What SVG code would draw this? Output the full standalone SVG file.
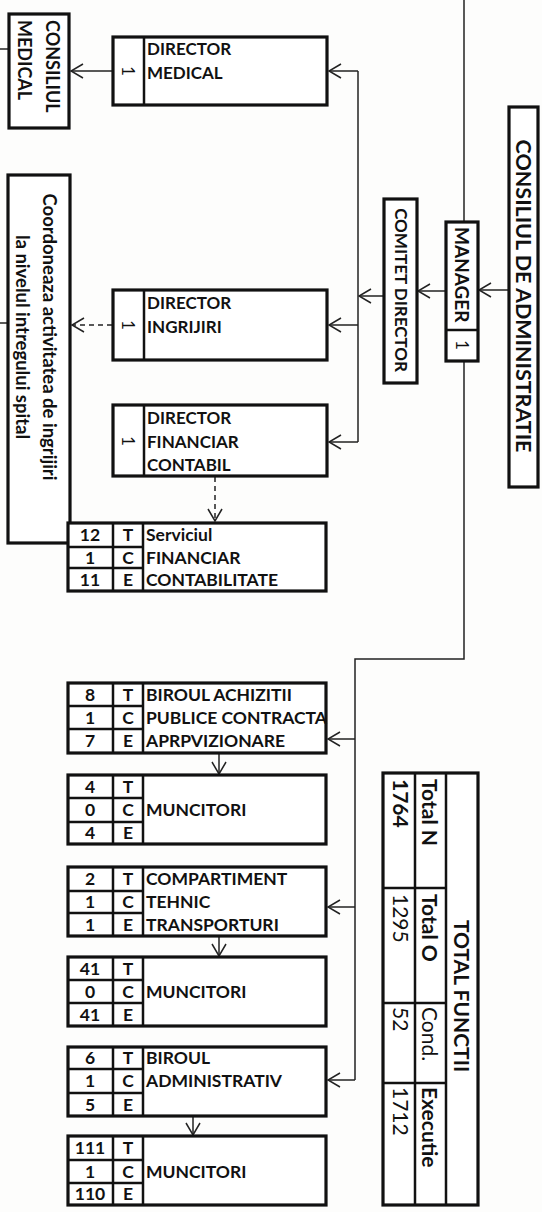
<svg xmlns="http://www.w3.org/2000/svg" width="542" height="1212" viewBox="0 0 542 1212">
<style>
.bg{fill:#fdfdfc}
.box{fill:#fff;stroke:#111;stroke-width:3.2}
.dv{stroke:#111;stroke-width:2.5;fill:none}
.con{fill:none;stroke:#222;stroke-width:1.5}
.dash{stroke-dasharray:5,4}
.t{font-family:Lato,"Liberation Sans",sans-serif;font-weight:bold;font-size:17.5px;fill:#111}
.d{font-size:17px}
.tt{font-size:21px}
.r{font-weight:normal}
.c{text-anchor:middle}
.v{dominant-baseline:central}
</style>
<defs>
<marker id="ah" viewBox="0 0 14 16" refX="13" refY="8" markerWidth="14" markerHeight="16" markerUnits="userSpaceOnUse" orient="auto">
<path d="M1,1 L13,8 L1,15" fill="none" stroke="#222" stroke-width="1.5"/>
</marker>
</defs>
<rect class="bg" x="0" y="0" width="542" height="1212"/>

<g id="connectors">
<line class="con" x1="464" y1="0" x2="464" y2="222"/>
<line class="con" x1="509" y1="290" x2="479" y2="290" marker-end="url(#ah)"/>
<line class="con" x1="446" y1="291" x2="418" y2="291" marker-end="url(#ah)"/>
<line class="con" x1="384" y1="296" x2="359" y2="296" marker-end="url(#ah)"/>
<line class="con" x1="358" y1="71" x2="358" y2="442"/>
<line class="con" x1="358" y1="71" x2="329" y2="71" marker-end="url(#ah)"/>
<line class="con" x1="358" y1="325" x2="329" y2="325" marker-end="url(#ah)"/>
<line class="con" x1="358" y1="442" x2="329" y2="442" marker-end="url(#ah)"/>
<line class="con" x1="113" y1="71" x2="71" y2="71" marker-end="url(#ah)"/>
<line class="con" x1="0" y1="49" x2="9" y2="49"/>
<line class="con dash" x1="112" y1="325" x2="72" y2="325" marker-end="url(#ah)"/>
<line class="con" x1="0" y1="323" x2="8" y2="323"/>
<line class="con dash" x1="215" y1="477" x2="215" y2="521" marker-end="url(#ah)"/>
<polyline class="con" points="464,361 464,659 355,659 355,1080" />
<line class="con" x1="355" y1="1080" x2="328" y2="1080" marker-end="url(#ah)"/>
<line class="con" x1="355" y1="739" x2="328" y2="739" marker-end="url(#ah)"/>
<line class="con" x1="355" y1="907" x2="328" y2="907" marker-end="url(#ah)"/>
<line class="con" x1="219" y1="754" x2="219" y2="774" marker-end="url(#ah)"/>
<line class="con" x1="219" y1="937" x2="219" y2="956" marker-end="url(#ah)"/>
<line class="con" x1="193" y1="1117" x2="193" y2="1135" marker-end="url(#ah)"/>
</g>

<g id="consiliul-administratie">
<rect class="box" x="509" y="107" width="29" height="380"/>
<text class="t v c" style="font-size:21.5px" transform="translate(524,296) rotate(90)">CONSILIUL DE ADMINISTRATIE</text>
</g>

<g id="manager">
<rect class="box" x="446" y="222" width="32" height="139"/>
<line class="dv" x1="446" y1="330" x2="478" y2="330"/>
<text class="t v" style="font-size:19px" transform="translate(462,227) rotate(90)">MANAGER</text>
<text class="t v c r" style="font-size:17px" transform="translate(462,345) rotate(90)">1</text>
</g>

<g id="comitet-director">
<rect class="box" x="384" y="199" width="33" height="184"/>
<text class="t v c" style="font-size:17px" transform="translate(401,290) rotate(90)">COMITET DIRECTOR</text>
</g>

<g id="consiliul-medical">
<rect class="box" x="9" y="14" width="60" height="114"/>
<text class="t v" style="font-size:18px" transform="translate(53,20) rotate(90)">CONSILIUL</text>
<text class="t v" style="font-size:18px" transform="translate(25,20) rotate(90)">MEDICAL</text>
</g>

<g id="director-medical">
<rect class="box" x="113" y="37" width="214" height="68"/>
<line class="dv" x1="144" y1="37" x2="144" y2="105"/>
<text class="t d v c r" transform="translate(128,71) rotate(90)">1</text>
<text class="t d" x="147" y="55">DIRECTOR</text>
<text class="t d" x="147" y="79">MEDICAL</text>
</g>

<g id="coordonare">
<rect class="box" x="8" y="175" width="62" height="368"/>
<text class="t v c" style="font-size:18.5px" transform="translate(50,337) rotate(90)">Coordoneaza activitatea de ingrijiri</text>
<text class="t v c" style="font-size:18.5px" transform="translate(23,337) rotate(90)">la nivelul intregului spital</text>
</g>

<g id="director-ingrijiri">
<rect class="box" x="113" y="290" width="214" height="70"/>
<line class="dv" x1="144" y1="290" x2="144" y2="360"/>
<text class="t d v c r" transform="translate(128,325) rotate(90)">1</text>
<text class="t d" x="147" y="309">DIRECTOR</text>
<text class="t d" x="147" y="333">INGRIJIRI</text>
</g>

<g id="director-financiar">
<rect class="box" x="113" y="405" width="214" height="71"/>
<line class="dv" x1="144" y1="405" x2="144" y2="476"/>
<text class="t d v c r" transform="translate(128,441) rotate(90)">1</text>
<text class="t d" x="147" y="424">DIRECTOR</text>
<text class="t d" x="147" y="448">FINANCIAR</text>
<text class="t d" x="147" y="471">CONTABIL</text>
</g>

<g id="serviciul-financiar">
<rect class="box" x="68" y="523" width="258" height="68"/>
<path class="dv" d="M113,523V591M143,523V591M68,547H143M68,568H143"/>
<text class="t c" x="90" y="541">12</text><text class="t c" x="128" y="541">T</text>
<text class="t c" x="90" y="564">1</text><text class="t c" x="128" y="564">C</text>
<text class="t c" x="90" y="586">11</text><text class="t c" x="128" y="586">E</text>
<text class="t" x="146" y="541">Serviciul</text>
<text class="t" x="146" y="564">FINANCIAR</text>
<text class="t" x="146" y="586">CONTABILITATE</text>
</g>

<g id="biroul-achizitii">
<rect class="box" x="68" y="683" width="258" height="70"/>
<path class="dv" d="M113,683V753M143,683V753M68,706H143M68,729H143"/>
<text class="t c" x="90" y="701">8</text><text class="t c" x="128" y="701">T</text>
<text class="t c" x="90" y="724">1</text><text class="t c" x="128" y="724">C</text>
<text class="t c" x="90" y="747">7</text><text class="t c" x="128" y="747">E</text>
<text class="t" x="146" y="701">BIROUL ACHIZITII</text>
<text class="t" x="146" y="724">PUBLICE CONTRACTA</text>
<text class="t" x="146" y="747">APRPVIZIONARE</text>
</g>

<g id="muncitori-1">
<rect class="box" x="68" y="775" width="258" height="69"/>
<path class="dv" d="M113,775V844M143,775V844M68,798H143M68,822H143"/>
<text class="t c" x="90" y="793">4</text><text class="t c" x="128" y="793">T</text>
<text class="t c" x="90" y="816">0</text><text class="t c" x="128" y="816">C</text>
<text class="t c" x="90" y="839">4</text><text class="t c" x="128" y="839">E</text>
<text class="t" x="146" y="816">MUNCITORI</text>
</g>

<g id="compartiment-tehnic">
<rect class="box" x="68" y="867" width="258" height="69"/>
<path class="dv" d="M113,867V936M143,867V936M68,891H143M68,913H143"/>
<text class="t c" x="90" y="885">2</text><text class="t c" x="128" y="885">T</text>
<text class="t c" x="90" y="908">1</text><text class="t c" x="128" y="908">C</text>
<text class="t c" x="90" y="931">1</text><text class="t c" x="128" y="931">E</text>
<text class="t" x="146" y="885">COMPARTIMENT</text>
<text class="t" x="146" y="908">TEHNIC</text>
<text class="t" x="146" y="931">TRANSPORTURI</text>
</g>

<g id="muncitori-2">
<rect class="box" x="68" y="957" width="258" height="69"/>
<path class="dv" d="M113,957V1026M143,957V1026M68,980H143M68,1003H143"/>
<text class="t c" x="90" y="975">41</text><text class="t c" x="128" y="975">T</text>
<text class="t c" x="90" y="998">0</text><text class="t c" x="128" y="998">C</text>
<text class="t c" x="90" y="1021">41</text><text class="t c" x="128" y="1021">E</text>
<text class="t" x="146" y="998">MUNCITORI</text>
</g>

<g id="biroul-administrativ">
<rect class="box" x="68" y="1047" width="258" height="69"/>
<path class="dv" d="M113,1047V1116M143,1047V1116M68,1069H143M68,1093H143"/>
<text class="t c" x="90" y="1064">6</text><text class="t c" x="128" y="1064">T</text>
<text class="t c" x="90" y="1087">1</text><text class="t c" x="128" y="1087">C</text>
<text class="t c" x="90" y="1111">5</text><text class="t c" x="128" y="1111">E</text>
<text class="t" x="146" y="1064">BIROUL</text>
<text class="t" x="146" y="1087">ADMINISTRATIV</text>
</g>

<g id="muncitori-3">
<rect class="box" x="68" y="1136" width="258" height="69"/>
<path class="dv" d="M113,1136V1205M143,1136V1205M68,1160H143M68,1183H143"/>
<text class="t c" x="90" y="1154">111</text><text class="t c" x="128" y="1154">T</text>
<text class="t c" x="90" y="1178">1</text><text class="t c" x="128" y="1178">C</text>
<text class="t c" x="90" y="1200">110</text><text class="t c" x="128" y="1200">E</text>
<text class="t" x="146" y="1178">MUNCITORI</text>
</g>

<g id="total-functii">
<rect class="box" x="383" y="773" width="95" height="432"/>
<path class="dv" d="M415,773V1205M446,773V1205M383,888H446M383,1003H446M383,1083H446"/>
<text class="t tt v c" transform="translate(462,996) rotate(90)">TOTAL FUNCTII</text>
<text class="t tt v" transform="translate(430,779) rotate(90)">Total N</text>
<text class="t tt v" transform="translate(401,779) rotate(90)">1764</text>
<text class="t tt v" transform="translate(430,894) rotate(90)">Total O</text>
<text class="t tt v r" transform="translate(401,894) rotate(90)">1295</text>
<text class="t tt v r" transform="translate(430,1007) rotate(90)">Cond.</text>
<text class="t tt v r" transform="translate(401,1007) rotate(90)">52</text>
<text class="t tt v" transform="translate(430,1087) rotate(90)">Executie</text>
<text class="t tt v r" transform="translate(401,1087) rotate(90)">1712</text>
</g>
</svg>
